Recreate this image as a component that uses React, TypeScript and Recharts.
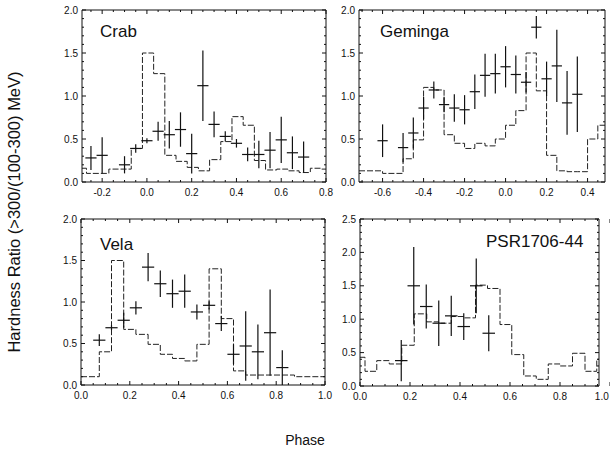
import React from 'react';
import { ComposedChart, Line, Scatter, XAxis, YAxis, ErrorBar } from 'recharts';

const FONT = '"Liberation Sans", Arial, Helvetica, sans-serif';
const PAGE_W = 610;
const PAGE_H = 454;
const AXIS_BAND = 1;

// ---------- Crab ----------
const crabPhase = [-0.25, -0.2, -0.1, -0.05, 0, 0.05, 0.1, 0.15, 0.2, 0.25, 0.3, 0.35, 0.4, 0.45, 0.5, 0.55, 0.6, 0.65, 0.7];
const crabRatio = [0.28, 0.31, 0.2, 0.39, 0.48, 0.59, 0.55, 0.61, 0.33, 1.12, 0.67, 0.53, 0.45, 0.32, 0.32, 0.37, 0.49, 0.34, 0.29];
const crabErr = [0.14, 0.21, 0.1, 0.05, 0.03, 0.11, 0.16, 0.2, 0.23, 0.41, 0.15, 0.06, 0.05, 0.08, 0.16, 0.21, 0.27, 0.19, 0.18];
const crabHistEdges = [-0.29, -0.27, -0.17, -0.07, -0.02, 0.03, 0.08, 0.13, 0.18, 0.23, 0.28, 0.33, 0.38, 0.43, 0.48, 0.53, 0.58, 0.63, 0.68, 0.73, 0.78];
const crabHistRatio = [0.16, 0.1, 0.15, 0.39, 1.5, 1.26, 0.31, 0.24, 0.17, 0.13, 0.26, 0.47, 0.76, 0.66, 0.25, 0.14, 0.15, 0.13, 0.11, 0.16, 0.15];

// ---------- Geminga ----------
const gemPhase = [-0.6, -0.5, -0.45, -0.4, -0.35, -0.3, -0.25, -0.2, -0.15, -0.1, -0.05, 0, 0.05, 0.1, 0.15, 0.2, 0.25, 0.3, 0.35];
const gemRatio = [0.48, 0.4, 0.57, 0.86, 1.07, 0.9, 0.86, 0.84, 1.05, 1.24, 1.26, 1.34, 1.25, 1.16, 1.8, 1.2, 1.35, 0.92, 1.02];
const gemErr = [0.19, 0.17, 0.18, 0.13, 0.1, 0.09, 0.16, 0.17, 0.2, 0.25, 0.23, 0.24, 0.22, 0.12, 0.13, 0.2, 0.42, 0.37, 0.44];
const gemHistEdges = [-0.715, -0.6, -0.5, -0.45, -0.4, -0.35, -0.3, -0.25, -0.2, -0.15, -0.1, -0.05, 0, 0.05, 0.1, 0.15, 0.2, 0.25, 0.3, 0.35, 0.4, 0.45];
const gemHistRatio = [0.13, 0.1, 0.27, 0.49, 1.1, 1.07, 0.55, 0.45, 0.39, 0.45, 0.42, 0.5, 0.66, 0.83, 1.5, 1.06, 0.31, 0.13, 0.12, 0.12, 0.5, 0.66];

// ---------- Vela ----------
const velaPhase = [0.075, 0.125, 0.175, 0.225, 0.275, 0.325, 0.375, 0.425, 0.475, 0.525, 0.575, 0.625, 0.675, 0.725, 0.775, 0.825];
const velaRatio = [0.54, 0.69, 0.78, 0.93, 1.42, 1.22, 1.1, 1.13, 0.88, 0.96, 0.74, 0.37, 0.47, 0.4, 0.63, 0.21];
const velaErr = [0.07, 0.03, 0.09, 0.08, 0.17, 0.16, 0.17, 0.2, 0.09, 0.05, 0.09, 0.12, 0.42, 0.33, 0.52, 0.21];
const velaHistEdges = [0, 0.075, 0.125, 0.175, 0.225, 0.275, 0.325, 0.375, 0.425, 0.475, 0.525, 0.575, 0.625, 0.675, 0.875];
const velaHistRatio = [0.1, 0.4, 1.5, 0.67, 0.61, 0.49, 0.37, 0.32, 0.29, 0.49, 1.4, 0.8, 0.17, 0.12, 0.1];

// ---------- PSR1706-44 ----------
const psrPhase = [0.165, 0.215, 0.265, 0.315, 0.365, 0.415, 0.465, 0.515];
const psrRatio = [0.38, 1.5, 1.19, 0.94, 1.05, 0.89, 1.5, 0.79];
const psrErr = [0.31, 0.58, 0.33, 0.34, 0.3, 0.2, 0.41, 0.27];
const psrHistEdges = [0, 0.02, 0.067, 0.117, 0.167, 0.217, 0.267, 0.315, 0.365, 0.415, 0.462, 0.51, 0.56, 0.607, 0.655, 0.705, 0.753, 0.8, 0.85, 0.9, 0.947];
const psrHistRatio = [0.43, 0.22, 0.38, 0.33, 0.61, 1.08, 0.96, 0.94, 1.04, 1.02, 1.51, 1.46, 0.92, 0.47, 0.15, 0.1, 0.33, 0.3, 0.49, 0.22, 0.4];

// ---------- axis tick labels ----------
const crabXTicks = [-0.2, 0, 0.2, 0.4, 0.6, 0.8];
const gemXTicks = [-0.6, -0.4, -0.2, 0, 0.2, 0.4];
const unitXTicks = [0, 0.2, 0.4, 0.6, 0.8, 1.0];
const ratioTicks = [0, 0.5, 1.0, 1.5, 2.0];
const psrRatioTicks = [0, 0.5, 1.0, 1.5, 2.0, 2.5];

const BIN_HALF_WIDTH = 0.025;
const TICK_FONT = 10;

type Box = { left: number; top: number; width: number; height: number };

type PanelSpec = {
  name: string;
  nameX: number;
  nameY: number;
  box: Box;
  xDomain: [number, number];
  yDomain: [number, number];
  xMajor: number[];
  yMajor: number[];
  phase: number[];
  ratio: number[];
  err: number[];
  histEdges: number[];
  histRatio: number[];
};

const panels: PanelSpec[] = [
  {
    name: 'Crab', nameX: 100, nameY: 37,
    box: { left: 82, top: 10, width: 244, height: 172 },
    xDomain: [-0.29, 0.8], yDomain: [0, 2],
    xMajor: crabXTicks, yMajor: ratioTicks,
    phase: crabPhase, ratio: crabRatio, err: crabErr,
    histEdges: crabHistEdges, histRatio: crabHistRatio,
  },
  {
    name: 'Geminga', nameX: 380, nameY: 37,
    box: { left: 359, top: 10, width: 246, height: 172 },
    xDomain: [-0.715, 0.485], yDomain: [0, 2],
    xMajor: gemXTicks, yMajor: ratioTicks,
    phase: gemPhase, ratio: gemRatio, err: gemErr,
    histEdges: gemHistEdges, histRatio: gemHistRatio,
  },
  {
    name: 'Vela', nameX: 100, nameY: 250,
    box: { left: 81, top: 219, width: 244, height: 166 },
    xDomain: [0, 1], yDomain: [0, 2],
    xMajor: unitXTicks, yMajor: ratioTicks,
    phase: velaPhase, ratio: velaRatio, err: velaErr,
    histEdges: velaHistEdges, histRatio: velaHistRatio,
  },
  {
    name: 'PSR1706-44', nameX: 486, nameY: 247,
    box: { left: 360, top: 219, width: 239, height: 167 },
    xDomain: [0, 0.956], yDomain: [0, 2.5],
    xMajor: unitXTicks, yMajor: psrRatioTicks,
    phase: psrPhase, ratio: psrRatio, err: psrErr,
    histEdges: psrHistEdges, histRatio: psrHistRatio,
  },
];

function stepTicks(lo: number, hi: number, step: number): number[] {
  const out: number[] = [];
  const start = Math.ceil(lo / step - 1e-6);
  const end = Math.floor(hi / step + 1e-6);
  for (let i = start; i <= end; i++) out.push(+(i * step).toFixed(3));
  return out;
}

const isMajor = (v: number, majors: number[]) => majors.some((m) => Math.abs(m - v) < 1e-6);

// minor ticks every `step`, plus any labelled value (even one just past the frame)
function withMajors(minor: number[], majors: number[]): number[] {
  const all = [...minor];
  majors.forEach((m) => {
    if (!all.some((v) => Math.abs(v - m) < 1e-6)) all.push(m);
  });
  return all.sort((a, b) => a - b);
}

type Side = 'bottom' | 'top' | 'left' | 'right';

// Inward-pointing tick marks (longer on labelled values), labels only on bottom/left.
function tickRenderer(side: Side, majors: number[]) {
  return (props: any) => {
    const { x, y, payload } = props;
    const v: number = payload.value;
    const major = isMajor(v, majors);
    const len = major ? 4 : 2;
    const stroke = '#111';
    let mark: React.ReactNode = null;
    let label: React.ReactNode = null;
    if (side === 'bottom') {
      mark = <line x1={x} x2={x} y1={y} y2={y - len} stroke={stroke} />;
      if (major) {
        // keep a label that sits on the page edge fully readable
        const halfWidth = TICK_FONT * 0.72;
        const lx = Math.min(x, PAGE_W - 1 - halfWidth);
        label = (
          <text x={lx} y={y + 14} textAnchor="middle" fontSize={TICK_FONT} fontFamily={FONT} fill="#111">
            {v.toFixed(1)}
          </text>
        );
      }
    } else if (side === 'top') {
      mark = <line x1={x} x2={x} y1={y} y2={y + len} stroke={stroke} />;
    } else if (side === 'left') {
      mark = <line x1={x} x2={x + len} y1={y} y2={y} stroke={stroke} />;
      if (major)
        label = (
          <text x={x - 4} y={y + 3.5} textAnchor="end" fontSize={TICK_FONT} fontFamily={FONT} fill="#111">
            {v.toFixed(1)}
          </text>
        );
    } else {
      mark = <line x1={x} x2={x - len} y1={y} y2={y} stroke={stroke} />;
    }
    return (
      <g>
        {mark}
        {label}
      </g>
    );
  };
}

function Panel({ spec }: { spec: PanelSpec }) {
  const { box, xDomain, yDomain } = spec;
  const xTicks = withMajors(stepTicks(xDomain[0], xDomain[1], 0.05), spec.xMajor);
  const yTicks = stepTicks(yDomain[0], yDomain[1], 0.1);

  const histData = spec.histEdges.map((e, i) => ({ x: e, y: spec.histRatio[i] }));
  histData.push({ x: xDomain[1], y: spec.histRatio[spec.histRatio.length - 1] });

  const pointData = spec.phase.map((p, i) => ({
    x: p,
    y: spec.ratio[i],
    ex: BIN_HALF_WIDTH,
    ey: spec.err[i],
  }));

  // each axis occupies a 1px band outside the plot box
  const margin = {
    top: box.top - AXIS_BAND,
    left: box.left - AXIS_BAND,
    right: PAGE_W - box.left - box.width - AXIS_BAND,
    bottom: PAGE_H - box.top - box.height - AXIS_BAND,
  };

  const axisLine = { stroke: '#111', strokeWidth: 1 };

  return (
    <div style={{ position: 'absolute', left: 0, top: 0 }}>
      <ComposedChart width={PAGE_W} height={PAGE_H} margin={margin}>
        <XAxis
          xAxisId="b" orientation="bottom" type="number" dataKey="x"
          domain={xDomain} allowDataOverflow ticks={xTicks} interval={0}
          height={AXIS_BAND} tickSize={0} tickMargin={0} tickLine={false}
          axisLine={axisLine} tick={tickRenderer('bottom', spec.xMajor)}
        />
        <XAxis
          xAxisId="t" orientation="top" type="number" dataKey="x"
          domain={xDomain} allowDataOverflow ticks={xTicks} interval={0}
          height={AXIS_BAND} tickSize={0} tickMargin={0} tickLine={false}
          axisLine={axisLine} tick={tickRenderer('top', spec.xMajor)}
        />
        <YAxis
          yAxisId="l" orientation="left" type="number" dataKey="y"
          domain={yDomain} allowDataOverflow ticks={yTicks} interval={0}
          width={AXIS_BAND} tickSize={0} tickMargin={0} tickLine={false}
          axisLine={axisLine} tick={tickRenderer('left', spec.yMajor)}
        />
        <YAxis
          yAxisId="r" orientation="right" type="number" dataKey="y"
          domain={yDomain} allowDataOverflow ticks={yTicks} interval={0}
          width={AXIS_BAND} tickSize={0} tickMargin={0} tickLine={false}
          axisLine={axisLine} tick={tickRenderer('right', spec.yMajor)}
        />
        <Line
          xAxisId="b" yAxisId="l" data={histData} dataKey="y" type="stepAfter"
          stroke="#222" strokeWidth={1} strokeDasharray="6 2" dot={false}
          activeDot={false} isAnimationActive={false}
        />
        <Scatter
          xAxisId="b" yAxisId="l" data={pointData} dataKey="y"
          shape={() => <g />} isAnimationActive={false}
        >
          <ErrorBar dataKey="ex" direction="x" width={0} stroke="#111" strokeWidth={1.2} />
          <ErrorBar dataKey="ey" direction="y" width={0} stroke="#111" strokeWidth={1.2} />
        </Scatter>
      </ComposedChart>
    </div>
  );
}

export default function App() {
  return (
    <div style={{ position: 'absolute', left: 0, top: 0, width: PAGE_W, height: PAGE_H, background: '#fff', overflow: 'hidden' }}>
      {panels.map((p) => (
        <Panel key={p.name} spec={p} />
      ))}
      <svg
        width={PAGE_W}
        height={PAGE_H}
        style={{ position: 'absolute', left: 0, top: 0, pointerEvents: 'none' }}
      >
        {panels.map((p) => (
          <text key={p.name} x={p.nameX} y={p.nameY} fontSize={17} fontFamily={FONT} fill="#111">
            {p.name}
          </text>
        ))}
        <text
          x={0}
          y={0}
          transform="translate(20 212) rotate(-90)"
          textAnchor="middle"
          fontSize={16.5}
          fontFamily={FONT}
          fill="#111"
        >
          Hardness Ratio (&gt;300/(100-300) MeV)
        </text>
        <text x={305} y={445} textAnchor="middle" fontSize={14} fontFamily={FONT} fill="#111">
          Phase
        </text>
      </svg>
    </div>
  );
}
